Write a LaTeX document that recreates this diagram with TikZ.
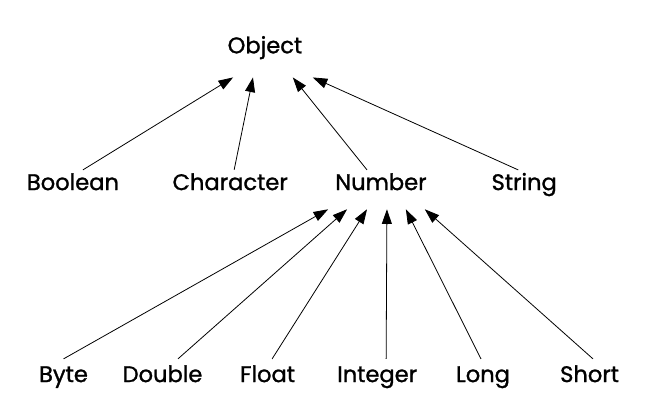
\documentclass[tikz,border=0pt]{standalone}
\usepackage{fontspec}
\setmainfont{Poppins}[FakeBold=1.2]
\usepackage{tikz}
\usetikzlibrary{arrows.meta, positioning}

\begin{document}
\begin{tikzpicture}[
    word/.style={font=\fontsize{17}{20}\selectfont, text height=12pt, text depth=0pt, inner xsep=0pt, inner ysep=3pt, anchor=base},
    rootword/.style={word, inner ysep=18pt},
    midword/.style={word, text depth=11.25pt},
    leafword/.style={word, inner ysep=5.25pt},
    arrow/.style={-{Triangle[length=11pt, width=7.5pt]}, line width=0.6pt}
]
\useasboundingbox (0,0) rectangle (17.49, 11.01);

% Root
\node[rootword] (object) at (7.01, 9.60) {Object};

% Second row
\node[word] (boolean) at (1.93, 5.98) {Boolean};
\node[word] (character) at (6.09, 5.98) {Character};
\node[midword] (number) at (10.08, 5.98) {Number};
\node[word] (string) at (13.87, 5.98) {String};

% Bottom row
\node[leafword] (byte) at (1.68, 0.90) {Byte};
\node[leafword] (double) at (4.30, 0.90) {Double};
\node[leafword] (float) at (7.08, 0.90) {Float};
\node[leafword] (integer) at (9.98, 0.90) {Integer};
\node[leafword] (long) at (12.78, 0.90) {Long};
\node[leafword] (short) at (15.60, 0.90) {Short};

% Arrows up to Object
\draw[arrow] ([xshift=7.5pt]boolean.north) -- ([xshift=-24pt]object.south);
\draw[arrow] ([xshift=3pt]character.north) -- ([xshift=-9pt]object.south);
\draw[arrow] ([xshift=-10.5pt]number.north) -- ([xshift=21pt]object.south);
\draw[arrow] ([xshift=-4.5pt]string.north) -- ([xshift=36pt]object.south);

% Arrows up to Number
\draw[arrow] (byte.north) -- ([xshift=-39.75pt]number.south);
\draw[arrow] ([xshift=11.6pt]double.north) -- ([xshift=-25.5pt]number.south);
\draw[arrow] ([xshift=3.4pt]float.north) -- ([xshift=-10.5pt]number.south);
\draw[arrow] ([xshift=6.75pt]integer.north) -- ([xshift=4.5pt]number.south);
\draw[arrow] ([xshift=-1.5pt]long.north) -- ([xshift=18.75pt]number.south);
\draw[arrow] ([xshift=2.6pt]short.north) -- ([xshift=33pt]number.south);

\end{tikzpicture}
\end{document}
